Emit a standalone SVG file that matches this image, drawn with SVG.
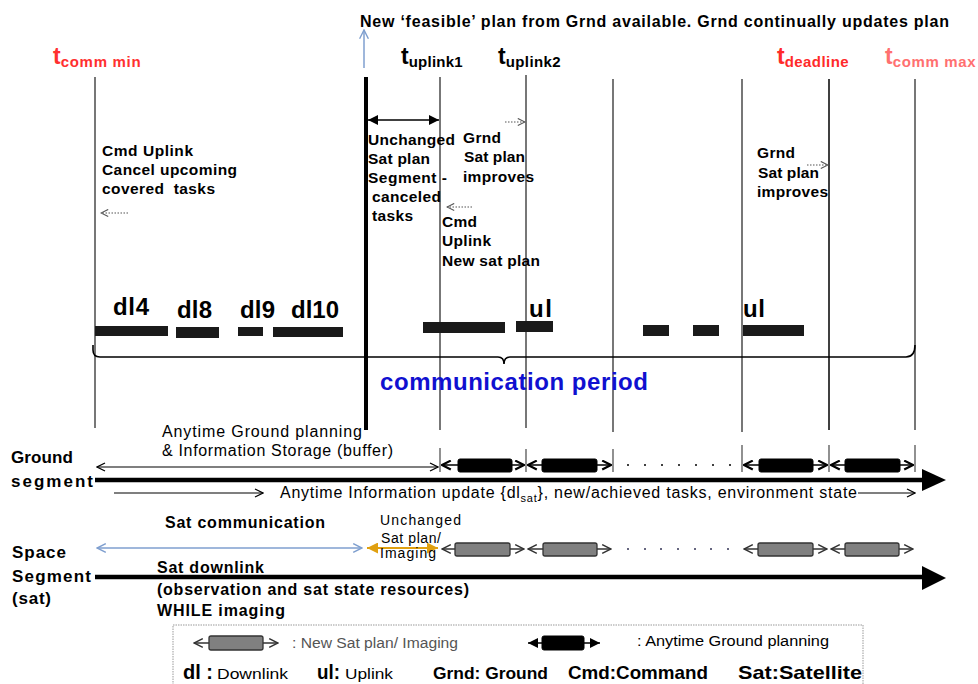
<svg xmlns="http://www.w3.org/2000/svg" width="978" height="684" viewBox="0 0 978 684">
<style>
text{font-family:"Liberation Sans",Arial,sans-serif;fill:#000}
.b{font-weight:bold}
.lbl{font-size:15.5px;font-weight:bold}
.t{font-size:23px;font-weight:bold}
.sub{font-size:15px;font-weight:bold}
.vl{stroke:#555;stroke-width:1.6;fill:none}
.thin{stroke:#000;stroke-width:1.2;fill:none}
.dot{stroke:#555;stroke-width:1.2;stroke-dasharray:1.5,1.5;fill:none}
.bar{fill:#1a1a1a}
.brect{fill:#000;stroke:#000}
.grect{fill:#808080;stroke:#333;stroke-width:1.3}
.tp{font-size:16px;font-weight:bold}
</style>
<defs>
<marker id="ch" viewBox="0 0 10 10" refX="9" refY="5" markerWidth="10" markerHeight="10" markerUnits="userSpaceOnUse" orient="auto-start-reverse">
<path d="M1,1 L9,5 L1,9" fill="none" stroke="#000" stroke-width="1.3"/>
</marker>
<marker id="chg" viewBox="0 0 10 10" refX="9" refY="5" markerWidth="11" markerHeight="11" markerUnits="userSpaceOnUse" orient="auto-start-reverse">
<path d="M1,1 L9,5 L1,9" fill="none" stroke="#333" stroke-width="1.3"/>
</marker>
<marker id="chb" viewBox="0 0 10 10" refX="9" refY="5" markerWidth="11" markerHeight="11" markerUnits="userSpaceOnUse" orient="auto-start-reverse">
<path d="M1,1 L9,5 L1,9" fill="none" stroke="#000" stroke-width="2"/>
</marker>
<marker id="chd" viewBox="0 0 10 10" refX="9" refY="5" markerWidth="9" markerHeight="9" markerUnits="userSpaceOnUse" orient="auto-start-reverse">
<path d="M1,1 L9,5 L1,9" fill="none" stroke="#555" stroke-width="1.2"/>
</marker>
<marker id="chl" viewBox="0 0 10 10" refX="9" refY="5" markerWidth="11" markerHeight="11" markerUnits="userSpaceOnUse" orient="auto-start-reverse">
<path d="M1,1 L9,5 L1,9" fill="none" stroke="#7f9fcf" stroke-width="1.3"/>
</marker>
<marker id="fa" viewBox="0 0 10 10" refX="10" refY="5" markerWidth="10" markerHeight="10" markerUnits="userSpaceOnUse" orient="auto-start-reverse">
<path d="M0,0 L10,5 L0,10 Z" fill="#000"/>
</marker>
<marker id="fo" viewBox="0 0 10 10" refX="10" refY="5" markerWidth="11" markerHeight="11" markerUnits="userSpaceOnUse" orient="auto-start-reverse">
<path d="M0,0 L10,5 L0,10 Z" fill="#e0a010"/>
</marker>
</defs>
<rect width="978" height="684" fill="#fff"/>

<!-- title -->
<g id="title">
<text class="tp" x="360" y="27" textLength="589">New ‘feasible’ plan from Grnd available. Grnd continually updates plan</text>
</g>

<!-- time labels -->
<g id="t-comm-min">
<text x="53" y="64" class="t" style="fill:#ff3030">t<tspan class="sub" dy="3" style="fill:#ff3030" textLength="80">comm min</tspan></text>
</g>
<g id="t-uplink1">
<text x="401" y="64" class="t">t<tspan class="sub" dy="3" textLength="54">uplink1</tspan></text>
</g>
<g id="t-uplink2">
<text x="498" y="64" class="t">t<tspan class="sub" dy="3" textLength="55">uplink2</tspan></text>
</g>
<g id="t-deadline">
<text x="777" y="64" class="t" style="fill:#ff2a2a">t<tspan class="sub" dy="3" style="fill:#ff2a2a" textLength="64">deadline</tspan></text>
</g>
<g id="t-comm-max">
<text x="885" y="64" class="t" style="fill:#ff7070">t<tspan class="sub" dy="3" style="fill:#ff7070" textLength="83">comm max</tspan></text>
</g>

<!-- timeline vertical lines -->
<g id="timelines">
<line class="vl" x1="95" y1="77" x2="95" y2="428"/>
<line x1="366" y1="77" x2="366" y2="430" stroke="#000" stroke-width="4"/>
<line class="vl" x1="440" y1="77" x2="440" y2="430"/>
<line class="vl" x1="526" y1="75" x2="526" y2="428"/>
<line class="vl" x1="613" y1="79" x2="613" y2="432"/>
<line class="vl" x1="742" y1="79" x2="742" y2="432"/>
<line x1="829" y1="79" x2="829" y2="430" stroke="#000" stroke-width="1.5"/>
<line class="vl" x1="915" y1="79" x2="915" y2="430"/>
</g>

<!-- connectors -->
<g id="connectors">
<line x1="364" y1="68" x2="364" y2="30" stroke="#7f9fcf" stroke-width="1.5" marker-end="url(#chl)"/>
<line x1="368" y1="120" x2="439" y2="120" stroke="#000" stroke-width="1.5" marker-start="url(#fa)" marker-end="url(#fa)"/>
<line class="dot" x1="128" y1="213" x2="101" y2="213" marker-end="url(#chd)"/>
<line class="dot" x1="505" y1="122" x2="525" y2="122" marker-end="url(#chd)"/>
<line class="dot" x1="472" y1="207" x2="447" y2="207" marker-end="url(#chd)"/>
<line class="dot" x1="807" y1="165" x2="828" y2="165" marker-end="url(#chd)"/>
<!-- ground segment -->
<line class="thin" x1="97" y1="467" x2="438" y2="467" marker-start="url(#ch)" marker-end="url(#ch)"/>
<line x1="95" y1="480" x2="926" y2="480" stroke="#000" stroke-width="4.5"/>
<path d="M922,469 L946,480 L922,491 Z" fill="#000"/>
<line class="thin" x1="114" y1="493" x2="263" y2="493" marker-end="url(#ch)"/>
<line class="thin" x1="858" y1="493" x2="915" y2="493" marker-end="url(#ch)"/>
<g stroke="#555" stroke-width="1.3">
<line x1="440" y1="448" x2="440" y2="472"/>
<line x1="526" y1="449" x2="526" y2="472"/>
<line x1="613" y1="449" x2="613" y2="472"/>
<line x1="742" y1="445" x2="742" y2="472"/>
<line x1="829" y1="445" x2="829" y2="472"/>
<line x1="915" y1="445" x2="915" y2="472"/>
</g>
<g stroke="#000" stroke-width="1.3">
<line x1="442" y1="465" x2="524" y2="465" marker-start="url(#chb)" marker-end="url(#chb)"/>
<line x1="528" y1="465" x2="611" y2="465" marker-start="url(#chb)" marker-end="url(#chb)"/>
<line x1="744" y1="465" x2="827" y2="465" marker-start="url(#chb)" marker-end="url(#chb)"/>
<line x1="831" y1="465" x2="913" y2="465" marker-start="url(#chb)" marker-end="url(#chb)"/>
</g>
<rect class="brect" x="458" y="459" width="54" height="13" rx="2"/>
<rect class="brect" x="542" y="459" width="55" height="13" rx="2"/>
<rect class="brect" x="759" y="459" width="54" height="13" rx="2"/>
<rect class="brect" x="845" y="459" width="55" height="13" rx="2"/>
<g fill="#000">
<circle cx="628" cy="465" r="1"/><circle cx="645" cy="465" r="1"/><circle cx="662" cy="465" r="1"/><circle cx="679" cy="465" r="1"/><circle cx="696" cy="465" r="1"/><circle cx="713" cy="465" r="1"/><circle cx="730" cy="465" r="1"/>
</g>
<!-- space segment -->
<line x1="97" y1="548" x2="362" y2="548" stroke="#7f9fcf" stroke-width="1.3" marker-start="url(#chl)" marker-end="url(#chl)"/>
<line x1="367" y1="548" x2="438" y2="548" stroke="#e0a010" stroke-width="2" marker-start="url(#fo)" marker-end="url(#fo)"/>
<g stroke="#333" stroke-width="1.3">
<line x1="442" y1="549" x2="524" y2="549" marker-start="url(#chg)" marker-end="url(#chg)"/>
<line x1="528" y1="549" x2="611" y2="549" marker-start="url(#chg)" marker-end="url(#chg)"/>
<line x1="744" y1="549" x2="827" y2="549" marker-start="url(#chg)" marker-end="url(#chg)"/>
<line x1="831" y1="549" x2="913" y2="549" marker-start="url(#chg)" marker-end="url(#chg)"/>
</g>
<rect class="grect" x="455" y="543" width="55" height="13" rx="2"/>
<rect class="grect" x="543" y="543" width="54" height="13" rx="2"/>
<rect class="grect" x="758" y="543" width="55" height="13" rx="2"/>
<rect class="grect" x="845" y="543" width="54" height="13" rx="2"/>
<g fill="#335">
<circle cx="628" cy="549" r="1"/><circle cx="645" cy="549" r="1"/><circle cx="661" cy="549" r="1"/><circle cx="678" cy="549" r="1"/><circle cx="695" cy="549" r="1"/><circle cx="711" cy="549" r="1"/><circle cx="728" cy="549" r="1"/>
</g>
<line x1="95" y1="577" x2="926" y2="577" stroke="#000" stroke-width="4.5"/>
<path d="M922,566 L946,578 L922,590 Z" fill="#000"/>
<!-- brace -->
<path d="M93,345 L93,350 Q93,357 100,357 L498,357 Q504,357 504,364 Q504,357 510,357 L906,357 Q915,357 915,345" fill="none" stroke="#000" stroke-width="1.6"/>
</g>

<!-- annotations -->
<g id="note-cancel">
<text class="lbl" x="102" y="156" textLength="91">Cmd Uplink</text>
<text class="lbl" x="102" y="175" textLength="135">Cancel upcoming</text>
<text class="lbl" x="102" y="194" textLength="113" xml:space="preserve">covered  tasks</text>
</g>
<g id="note-unchanged">
<text class="lbl" x="368" y="145" textLength="87">Unchanged</text>
<text class="lbl" x="368" y="164" textLength="62">Sat plan</text>
<text class="lbl" x="368" y="183" textLength="79">Segment -</text>
<text class="lbl" x="372" y="202" textLength="69">canceled</text>
<text class="lbl" x="372" y="221" textLength="41">tasks</text>
</g>
<g id="note-grnd1">
<text class="lbl" x="463" y="143" textLength="38">Grnd</text>
<text class="lbl" x="464" y="162" textLength="61">Sat plan</text>
<text class="lbl" x="463" y="182" textLength="71">improves</text>
</g>
<g id="note-cmd">
<text class="lbl" x="442" y="227" textLength="35">Cmd</text>
<text class="lbl" x="442" y="246" textLength="49">Uplink</text>
<text class="lbl" x="442" y="266" textLength="98">New sat plan</text>
</g>
<g id="note-grnd2">
<text class="lbl" x="757" y="158" textLength="38">Grnd</text>
<text class="lbl" x="758" y="178" textLength="61">Sat plan</text>
<text class="lbl" x="757" y="197" textLength="71">improves</text>
</g>

<!-- comm bars -->
<g id="bars">
<rect class="bar" x="95" y="326" width="73" height="10"/>
<rect class="bar" x="176" y="327" width="43" height="11"/>
<rect class="bar" x="238" y="327" width="25" height="9"/>
<rect class="bar" x="273" y="327" width="70" height="10"/>
<rect class="bar" x="423" y="322" width="82" height="11"/>
<rect class="bar" x="516" y="321" width="37" height="11"/>
<rect class="bar" x="643" y="325" width="26" height="11"/>
<rect class="bar" x="693" y="325" width="26" height="11"/>
<rect class="bar" x="743" y="325" width="61" height="11"/>
<g style="font-size:24px;font-weight:bold">
<text x="113" y="315" textLength="36">dl4</text>
<text x="177" y="318" textLength="35">dl8</text>
<text x="240" y="318" textLength="35">dl9</text>
<text x="291" y="318" textLength="48">dl10</text>
<text x="529" y="317" textLength="23">ul</text>
<text x="743" y="317" textLength="22">ul</text>
</g>
</g>
<g id="comm-period">
<text x="380" y="390" style="font-size:24px;font-weight:bold;fill:#1010d0" textLength="268">communication period</text>
</g>

<!-- ground segment -->
<g id="ground-segment">
<text class="b" x="11" y="463" style="font-size:17px" textLength="62">Ground</text>
<text class="b" x="11" y="487" style="font-size:17px" textLength="82">segment</text>
<text x="162" y="437" style="font-size:16px" textLength="200">Anytime Ground planning</text>
<text x="162" y="456" style="font-size:16px" textLength="231">&amp; Information Storage (buffer)</text>
<text x="280" y="498" style="font-size:16px" textLength="577">Anytime Information update {dl<tspan style="font-size:11px" dy="4">sat</tspan><tspan dy="-4">}, new/achieved tasks, environment state</tspan></text>
</g>

<!-- space segment -->
<g id="space-segment">
<text class="b" x="12" y="558" style="font-size:17px" textLength="54">Space</text>
<text class="b" x="12" y="582" style="font-size:17px" textLength="79">Segment</text>
<text class="b" x="12" y="604" style="font-size:17px" textLength="39">(sat)</text>
<text class="b" x="165" y="528" style="font-size:16px" textLength="160">Sat communication</text>
<text x="380" y="525" style="font-size:14px" textLength="81">Unchanged</text>
<text x="381" y="543" style="font-size:14px" textLength="60">Sat plan/</text>
<text x="380" y="558" style="font-size:14px" textLength="56">Imaging</text>
<text class="b" x="157" y="573" style="font-size:16px" textLength="107">Sat downlink</text>
<text class="b" x="157" y="595" style="font-size:16px" textLength="312">(observation and sat state resources)</text>
<text class="b" x="157" y="616" style="font-size:16px" textLength="128">WHILE imaging</text>
</g>

<!-- legend -->
<g id="legend">
<rect x="173" y="625" width="690" height="70" fill="none" stroke="#999" stroke-width="1" stroke-dasharray="1.5,1"/>
<line x1="194" y1="643" x2="278" y2="643" stroke="#333" stroke-width="1.3" marker-start="url(#chg)" marker-end="url(#chg)"/>
<rect class="grect" x="209" y="636" width="54" height="14" rx="2"/>
<text x="292" y="648" style="font-size:14px;fill:#555" textLength="166" lengthAdjust="spacingAndGlyphs">: New Sat plan/ Imaging</text>
<line x1="528" y1="643" x2="600" y2="643" stroke="#000" stroke-width="1.5" marker-start="url(#fa)" marker-end="url(#fa)"/>
<rect class="brect" x="542" y="636" width="42" height="14" rx="2"/>
<text x="637" y="646" style="font-size:14px" textLength="192" lengthAdjust="spacingAndGlyphs">: Anytime Ground planning</text>
<text x="183" y="679" style="font-size:21px;font-weight:bold" textLength="30" lengthAdjust="spacingAndGlyphs">dl :</text>
<text x="217" y="679" style="font-size:15px" textLength="71" lengthAdjust="spacingAndGlyphs">Downlink</text>
<text x="317" y="679" style="font-size:21px;font-weight:bold" textLength="23" lengthAdjust="spacingAndGlyphs">ul:</text>
<text x="345" y="679" style="font-size:15px" textLength="48" lengthAdjust="spacingAndGlyphs">Uplink</text>
<text x="433" y="679" style="font-size:17px;font-weight:bold" textLength="115" lengthAdjust="spacingAndGlyphs">Grnd: Ground</text>
<text x="568" y="679" style="font-size:19px;font-weight:bold" textLength="140" lengthAdjust="spacingAndGlyphs">Cmd:Command</text>
<text x="738" y="679" style="font-size:19px;font-weight:bold" textLength="124" lengthAdjust="spacingAndGlyphs">Sat:Satellite</text>
</g>
</svg>
